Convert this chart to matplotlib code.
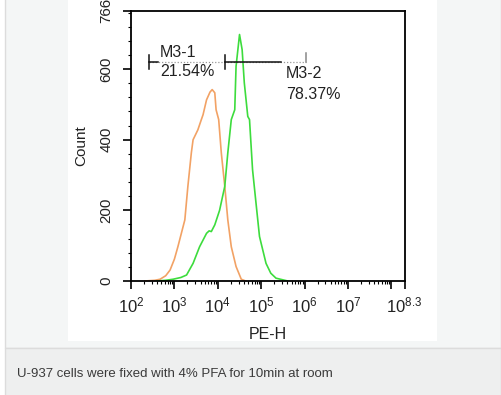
import matplotlib
matplotlib.use("Agg")
import matplotlib.pyplot as plt
from matplotlib.patches import Rectangle
from matplotlib.ticker import FixedLocator, LogLocator, MultipleLocator, NullFormatter
import numpy as np

plt.rcParams.update(
    {
        "font.family": "Liberation Sans",
        "mathtext.fontset": "custom",
        "mathtext.rm": "Liberation Sans",
        "mathtext.it": "Liberation Sans",
        "axes.linewidth": 1.3,
    }
)

W, H = 502, 395

# control histogram (orange), x in decades (log10 PE-H)
ctrl_log = [2.32, 2.55, 2.67, 2.80, 2.90, 3.00, 3.08, 3.16, 3.24, 3.31, 3.39, 3.43, 3.54, 3.62,
            3.66, 3.74, 3.82, 3.87, 3.93, 3.96, 4.02, 4.08, 4.16, 4.23, 4.31, 4.42,
            4.54, 4.64]
ctrl_count = [0, 2, 5, 15, 31, 62, 97, 135, 173, 268, 363, 400, 428, 457,
              471, 513, 535, 542, 533, 485, 457, 363, 268, 173, 97, 41,
              5, 0]

# stained sample histogram (green)
samp_log = [2.59, 2.80, 2.97, 3.15, 3.28, 3.43, 3.58, 3.74, 3.80, 3.85, 3.93, 4.04, 4.16,
            4.23, 4.31, 4.39, 4.42, 4.50, 4.56, 4.61, 4.69, 4.73, 4.80, 4.88, 4.96,
            5.11, 5.22, 5.34, 5.61]
samp_count = [0, 2, 5, 10, 17, 50, 97, 135, 142, 140, 159, 200, 268,
              363, 457, 485, 608, 698, 655, 561, 466, 457, 315, 220, 126,
              50, 22, 8, 0]

# gates
gate_left = 2.42
gate_mid = 4.17
gate_right = 6.03
gate_y = 619
gate_names = ["M3-1", "M3-2"]
gate_pcts = ["21.54%", "78.37%"]

xtick_exp = ["2", "3", "4", "5", "6", "7", "8.3"]
ytick_vals = [0, 200, 400, 600, 766]

caption = "U-937 cells were fixed with 4% PFA for 10min at room"

fig = plt.figure(figsize=(W / 100, H / 100), dpi=100, facecolor="white")


def box(x0, y0, x1, y1, **kw):
    # rectangle in pixel coords (origin top-left), kept behind the axes
    fig.patches.append(
        Rectangle((x0 / W, 1 - y1 / H), (x1 - x0) / W, (y1 - y0) / H,
                  transform=fig.transFigure, figure=fig, zorder=-10, **kw)
    )


# page panels
box(5, -2, 501, 347.5, facecolor="#f4f6f6", edgecolor="#dcdcdc", linewidth=1.0)
box(5, 347.5, 501, 397, facecolor="#eeefef", edgecolor="#dcdcdc", linewidth=1.0)
box(68, -1, 437, 341, facecolor="white", edgecolor="none")

ax = fig.add_axes([131 / W, 1 - 281 / H, (404.5 - 131) / W, (281 - 10.5) / H])
ax.set_facecolor("white")

ax.plot(10 ** np.array(ctrl_log), ctrl_count, color="#f2a265", lw=1.2)
ax.plot(10 ** np.array(samp_log), samp_count, color="#3ddc3d", lw=1.2)

ax.set_xscale("log")
ax.set_xlim(1e2, 10 ** 8.3)
ax.set_ylim(0, 766)

ax.xaxis.set_major_locator(FixedLocator([10 ** float(e) for e in xtick_exp] + [1e8]))
ax.set_xticklabels(["$10^{%s}$" % e for e in xtick_exp] + [""], fontsize=12, color="#222222")
ax.xaxis.set_minor_locator(LogLocator(base=10, subs=np.arange(2, 10), numticks=20))
ax.xaxis.set_minor_formatter(NullFormatter())

ax.set_yticks(ytick_vals)
ax.set_yticklabels([str(v) for v in ytick_vals], fontsize=10.8, color="#222222",
                   rotation=90, va="center")
ax.yaxis.set_minor_locator(MultipleLocator(40))

ax.tick_params(axis="both", which="major", direction="out", length=5.5, width=1.2)
ax.tick_params(axis="both", which="minor", direction="out", length=2.5, width=0.8)
ax.tick_params(axis="x", which="major", pad=5)
ax.tick_params(axis="y", which="major", pad=7)

ax.set_xlabel("PE-H", fontsize=11.5, color="#222222", labelpad=8)
ax.set_ylabel("Count", fontsize=11, color="#222222", labelpad=8)

# gate markers
gl, gm, gr = 10 ** gate_left, 10 ** gate_mid, 10 ** gate_right
ax.plot([gl, gr], [gate_y, gate_y], color="#999999", lw=0.9, ls=(0, (1, 1.5)))
ax.plot([gl, 10 ** 2.62], [gate_y, gate_y], color="#111111", lw=1.1)
ax.plot([gm, 10 ** 5.46], [gate_y, gate_y], color="#111111", lw=1.1)
for gx in (gl, gm):
    ax.plot([gx, gx], [599, 641], color="#111111", lw=1.1)
ax.plot([gr, gr], [gate_y, 646], color="#888888", lw=1.1)

ax.text(10 ** 2.67, 625, gate_names[0], fontsize=11.5, color="#222222", va="bottom", ha="left")
ax.text(10 ** 2.67, 614, gate_pcts[0], fontsize=11.5, color="#222222", va="top", ha="left")
ax.text(10 ** 5.57, 610, gate_names[1], fontsize=11.5, color="#222222", va="top", ha="left")
ax.text(10 ** 5.57, 550, gate_pcts[1], fontsize=11.5, color="#222222", va="top", ha="left")

# cut-off header above the plot
fig.text(197 / W, 1 - 3 / H, "CD 35 16: PE: 3.2", fontsize=10.5, color="#555555",
         ha="left", va="bottom")
fig.text(318 / W, 1 - 3 / H, "7%", fontsize=10.5, color="#7be27b",
         ha="left", va="bottom")

fig.text(17 / W, 1 - 374 / H, caption, fontsize=9.5, color="#3a3a3a",
         ha="left", va="center")

fig.savefig("out.png", dpi=100, facecolor="white")
